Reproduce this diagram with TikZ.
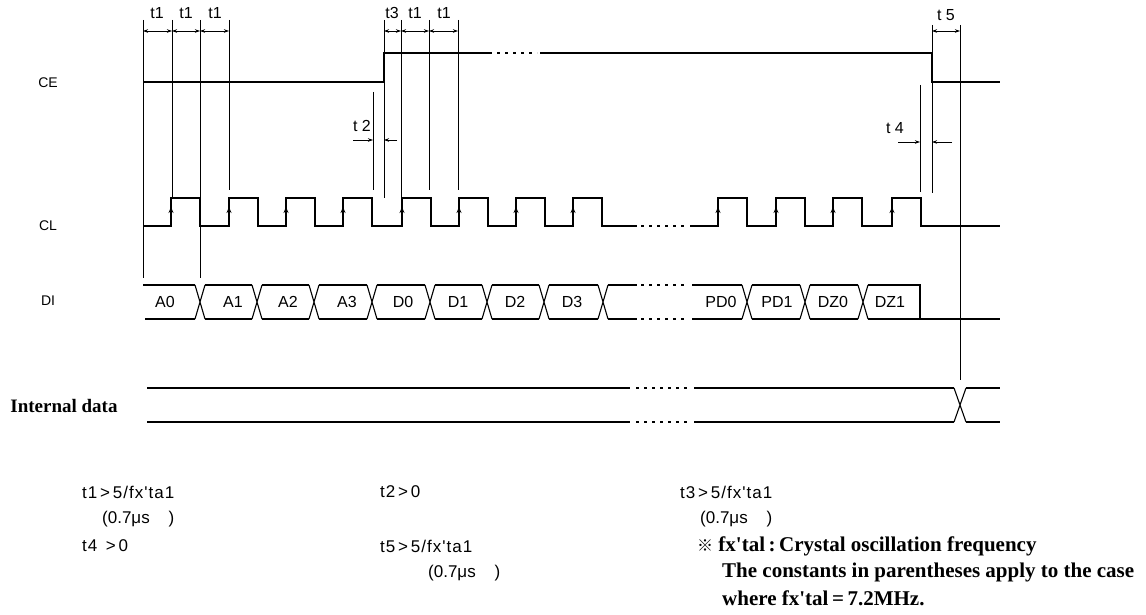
\documentclass[tikz,border=0pt]{standalone}
\usepackage{fontspec}
\setmainfont{Liberation Sans}
\newfontfamily\serifb{Liberation Serif}
\newfontfamily\spaced[LetterSpace=6]{Liberation Sans}
\newfontfamily\cjk{Noto Sans CJK JP}
\usetikzlibrary{arrows.meta}
\newcommand{\gtsym}{\,>\,}
\begin{document}
\begin{tikzpicture}[x=1pt,y=-1pt,
  sig/.style={line width=1.5pt,line join=miter},
  sigdash/.style={line width=1.5pt,dash pattern=on 3pt off 5pt},
  vl/.style={line width=0.6pt},
  dimarr/.style={line width=0.8pt,{Stealth[length=5pt,width=3.5pt]}-{Stealth[length=5pt,width=3.5pt]}},
  onearr/.style={line width=0.8pt,-{Stealth[length=5pt,width=3.5pt]}},
  edgearr/.style={line width=1pt,-{Stealth[length=6pt,width=5pt]}},
  tlab/.style={inner sep=0pt,font=\fontsize{16}{18}\selectfont},
  siglab/.style={inner sep=0pt,font=\fontsize{14}{16}\selectfont},
  dlab/.style={inner sep=0pt,font=\fontsize{16}{18}\selectfont},
  note/.style={inner sep=0pt,anchor=west,font=\spaced\fontsize{17}{19}\selectfont},
  pnote/.style={inner sep=0pt,anchor=west,font=\fontsize{17}{19}\selectfont},
  bnote/.style={inner sep=0pt,anchor=west,font=\serifb\bfseries\fontsize{21}{23}\selectfont}]
\useasboundingbox (0,0) rectangle (1146,615);
\fill[white] (0,0) rectangle (1146,615);

% signal labels
\node[siglab] (lce) at (48,83) {CE};
\node[siglab] (lcl) at (48,226) {CL};
\node[siglab] (ldi) at (48,301) {DI};
\node[inner sep=0pt,font=\serifb\bfseries\fontsize{19}{21}\selectfont] (lint) at (64,406) {Internal data};

% vertical timing lines
\foreach \x/\ya/\yb in {143/20/278,172/20/197,200/20/278,229/20/190,
   373/92/190,384/20/198,401/20/198,429/20/190,458/20/190,
   920/85/192,932/25/193,960/25/380}
  \draw[vl] (\x,\ya) -- (\x,\yb);

% CE
\draw[sig] (143,82) -- (384,82) -- (384,53) -- (492,53);
\draw[sigdash] (497,53) -- (537,53);
\draw[sig] (540,53) -- (932,53) -- (932,82) -- (1000,82);

% CL
\draw[sig] (143,226)
  \foreach \r in {171,229,286,343,402,459,516,573}
    { -- (\r,226) -- (\r,198) -- ({\r+29},198) -- ({\r+29},226) }
  -- (637,226);
\draw[sigdash] (641,226) -- (688,226);
\draw[sig] (690,226)
  \foreach \r in {718,776,833,892}
    { -- (\r,226) -- (\r,198) -- ({\r+29},198) -- ({\r+29},226) }
  -- (1000,226);
\foreach \r in {171,229,286,343,402,459,516,573,718,776,833,892}
  \draw[edgearr] (\r,221) -- (\r,207);

% DI
\draw[sig] (143,285) -- (195,285);
\draw[sig] (145,319) -- (195,319);
\foreach \c in {200,257,314,372,430,487,544,603,747,805,863}
  \draw[line width=1.1pt] ({\c-5},285) -- ({\c+5},319) ({\c-5},319) -- ({\c+5},285);
\foreach \a/\b in {200/257,257/314,314/372,372/430,430/487,487/544,544/603,747/805,805/863}
  \draw[sig] ({\a+5},285) -- ({\b-5},285) ({\a+5},319) -- ({\b-5},319);
\draw[sig] (608,285) -- (637,285) (608,319) -- (637,319);
\draw[sigdash] (641,285) -- (688,285) (641,319) -- (688,319);
\draw[sig] (692,285) -- (742,285) (692,319) -- (742,319);
\draw[sig] (868,285) -- (920,285) -- (920,319);
\draw[sig] (868,319) -- (1000,319);

\foreach \x/\t/\n in {165/A0/a0,233/A1/a1,288/A2/a2,347/A3/a3,403/D0/d0,458/D1/d1,515/D2/d2,572/D3/d3,
   721/PD0/pd0,777/PD1/pd1,833/DZ0/dz0,890/DZ1/dz1}
  \node[dlab] (\n) at (\x,302) {\t};

% Internal data
\draw[sig] (147,388) -- (630,388) (147,422) -- (630,422);
\draw[sigdash] (636,388) -- (688,388) (636,422) -- (688,422);
\draw[sig] (694,388) -- (954,388) (694,422) -- (954,422);
\draw[line width=1.1pt] (954,388) -- (966,422) (954,422) -- (966,388);
\draw[sig] (966,388) -- (1000,388) (966,422) -- (1000,422);

% dimension arrows
\foreach \a/\b in {143/172,172/200,200/229,384/401,401/429,429/458,932/960}
  \draw[dimarr] (\a,31) -- (\b,31);
\draw[onearr] (353,140) -- (373,140);
\draw[onearr] (397,140) -- (384,140);
\draw[onearr] (898,142) -- (920,142);
\draw[onearr] (952,142) -- (932,142);

% timing labels
\node[tlab] (l1) at (157,13) {t1};
\node[tlab] (l2) at (186,13) {t1};
\node[tlab] (l3) at (215,13) {t1};
\node[tlab] (l4) at (392,13) {t3};
\node[tlab] (l5) at (415,13) {t1};
\node[tlab] (l6) at (444,13) {t1};
\node[tlab] (l7) at (946,15) {t 5};
\node[tlab] (l8) at (362,126) {t 2};
\node[tlab] (l9) at (895,128) {t 4};

% notes
\node[note] (n1) at (82,492) {t1\gtsym5/fx'ta1};
\node[pnote] (n2) at (102,519) {(0.7μs\ \ \ \ )};
\node[note] (n3) at (82,546) {t4\ \gtsym0};
\node[note] (n4) at (380,492) {t2\gtsym0};
\node[note] (n5) at (380,546) {t5\gtsym5/fx'ta1};
\node[pnote] (n6) at (428,573) {(0.7μs\ \ \ \ )};
\node[note] (n7) at (680,492) {t3\gtsym5/fx'ta1};
\node[pnote] (n8) at (700,519) {(0.7μs\ \ \ \ )};
\node[bnote] (n9) at (697,546) {{\cjk\fontsize{16}{18}\selectfont ※} fx'tal\,:\,Crystal oscillation frequency};
\node[bnote] (n10) at (722,572) {The constants in parentheses apply to the case};
\node[bnote] (n11) at (722,598) {where fx'tal\,=\,7.2MHz.};
\end{tikzpicture}
\end{document}
